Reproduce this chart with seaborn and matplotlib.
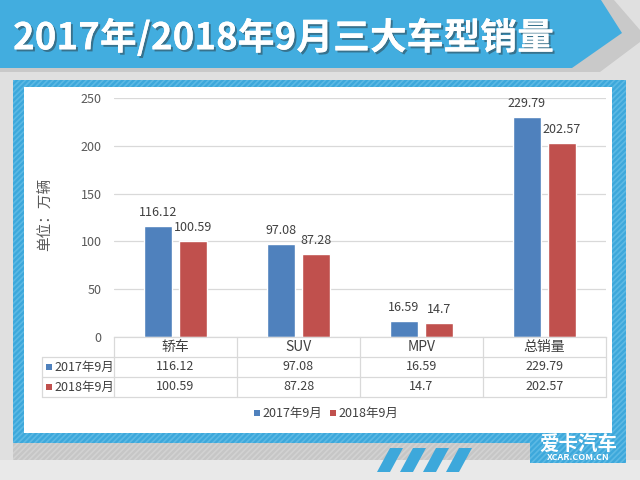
import numpy as np
import pandas as pd
import seaborn as sns
import matplotlib
matplotlib.use("Agg")
import matplotlib.pyplot as plt
from matplotlib.patches import Polygon, Rectangle
import matplotlib.patheffects as pe

# ---------------- data ----------------
categories = ["轿车", "SUV", "MPV", "总销量"]
series_names = ["2017年9月", "2018年9月"]
sales_2017 = [116.12, 97.08, 16.59, 229.79]
sales_2018 = [100.59, 87.28, 14.7, 202.57]
yticks = [0, 50, 100, 150, 200, 250]
title = "2017年/2018年9月三大车型销量"
ylabel = "单位：万辆"
colors = ["#4F81BD", "#C0504D"]

sns.set_style("white")
plt.rcParams["font.family"] = ["Noto Sans CJK SC", "DejaVu Sans"]
plt.rcParams["hatch.linewidth"] = 1.2

df = pd.DataFrame({
    "车型": categories * 2,
    "销量": sales_2017 + sales_2018,
    "月份": [series_names[0]] * 4 + [series_names[1]] * 4,
})

W, H = 640, 480
fig = plt.figure(figsize=(6.4, 4.8), dpi=100)

# ---------------- decorative background (pixel coords) ----------------
bg = fig.add_axes([0, 0, 1, 1], zorder=0)
bg.set_xlim(0, W)
bg.set_ylim(H, 0)
bg.axis("off")
bg.add_patch(Rectangle((0, 0), W, H, color="#E0E0E0", lw=0))
bg.add_patch(Rectangle((0, 460), W, 20, color="#E9E9E9", lw=0))
# gray shadow strip under frame
bg.add_patch(Rectangle((13, 443), 613, 17, facecolor="#C6C6C6", edgecolor="#D2D2D2",
                       hatch="//////", lw=0))
# title banner shadow + banner
bg.add_patch(Polygon([(0, 0), (614, 0), (640, 30), (640, 42), (600, 72), (0, 72)],
                     closed=True, color="#C9C9C9", lw=0))
bg.add_patch(Polygon([(0, 0), (601, 0), (622, 33), (572, 68), (0, 68)],
                     closed=True, color="#42ADDF", lw=0))
# blue frame
bg.add_patch(Rectangle((13, 80), 613, 363, facecolor="#3DA8DB", edgecolor="#5CB9E4",
                       hatch="//////", lw=0))
bg.add_patch(Rectangle((530, 433), 96, 30, facecolor="#3DA8DB", edgecolor="#5CB9E4",
                       hatch="//////", lw=0))
bg.add_patch(Rectangle((24, 87), 588, 346, color="white", lw=0))
# diagonal stripes at bottom
for x0 in [377, 400, 423, 446]:
    bg.add_patch(Polygon([(x0, 472), (x0 + 13, 472), (x0 + 26, 448), (x0 + 13, 448)],
                         closed=True, color="#3DA8DB", lw=0))

bg.text(13, 38, title, color="white", fontsize=26.5, fontweight="bold",
        ha="left", va="center",
        path_effects=[pe.withSimplePatchShadow(offset=(1.5, -1.5),
                                               shadow_rgbFace="#2A2A2A", alpha=0.45),
                      pe.Normal()])
# logo
bg.text(578, 444, "爱卡汽车", color="white", fontsize=14, fontweight="bold",
        ha="center", va="center")
bg.text(578, 457, "XCAR.COM.CN", color="white", fontsize=6.5, fontweight="bold",
        ha="center", va="center")

# ---------------- chart ----------------
ax_l, ax_r = 114, 606
ax_b, ax_t = 337, 98
ax = fig.add_axes([ax_l / W, (H - ax_b) / H, (ax_r - ax_l) / W, (ax_b - ax_t) / H],
                  zorder=1)
ax.set_facecolor("none")

sns.barplot(data=df, x="车型", y="销量", hue="月份", palette=colors,
            width=0.57, gap=0.2, saturation=1, ax=ax, legend=False)

for cont, vals in zip(ax.containers, [sales_2017, sales_2018]):
    ax.bar_label(cont, labels=[str(v) for v in vals], padding=5,
                 fontsize=9, color="#404040")

ax.set_xlim(-0.5, len(categories) - 0.5)
ax.set_ylim(yticks[0], yticks[-1])
ax.set_yticks(yticks)
ax.set_yticklabels([str(t) for t in yticks], fontsize=9, color="#595959")
ax.tick_params(axis="y", length=0, pad=9)
ax.set_xticks([])
ax.set_xlabel("")
ax.set_ylabel("")
ax.grid(axis="y", color="#D9D9D9", lw=0.9)
ax.set_axisbelow(True)
for s in ["top", "right", "left"]:
    ax.spines[s].set_visible(False)
ax.spines["bottom"].set_color("#D9D9D9")
ax.spines["bottom"].set_linewidth(0.9)

fig.text(46 / W, (H - 214) / H, ylabel, rotation=90, fontsize=10.5, color="#595959",
         ha="center", va="center")

# ---------------- data table ----------------
ph = ax_b - ax_t
def ay(py):
    return (ax_b - py) / ph

xt = ax.get_xaxis_transform()
grid_c = "#D9D9D9"
row_y = [347, 367, 387]
bounds = np.arange(len(categories) + 1) - 0.5
for b in bounds:
    ax.plot([b, b], [0, ay(397)], transform=xt, color=grid_c, lw=0.9, clip_on=False)
left_frac = (42 - ax_l) / (ax_r - ax_l)
for py in [357, 377, 397]:
    ax.plot([left_frac, 1], [ay(py), ay(py)], transform=ax.transAxes, color=grid_c,
            lw=0.9, clip_on=False)
ax.plot([left_frac, left_frac], [ay(357), ay(397)], transform=ax.transAxes,
        color=grid_c, lw=0.9, clip_on=False)

for i, c in enumerate(categories):
    ax.text(i, ay(row_y[0]), c, transform=xt, ha="center", va="center",
            fontsize=10, color="#404040")
for r, (vals, name, col) in enumerate(zip([sales_2017, sales_2018], series_names, colors)):
    yy = ay(row_y[r + 1])
    for i, v in enumerate(vals):
        ax.text(i, yy, str(v), transform=xt, ha="center", va="center",
                fontsize=9, color="#404040")
    bg.add_patch(Rectangle((46, row_y[r + 1] - 3), 6, 6, color=col, lw=0))
    bg.text(54, row_y[r + 1], name, ha="left", va="center", fontsize=9, color="#404040")

# legend
leg_x = [254, 330]
for x0, name, col in zip(leg_x, series_names, colors):
    bg.add_patch(Rectangle((x0, 410), 6, 6, color=col, lw=0))
    bg.text(x0 + 8, 413, name, ha="left", va="center", fontsize=9, color="#404040")

fig.savefig("out.png", dpi=100)
